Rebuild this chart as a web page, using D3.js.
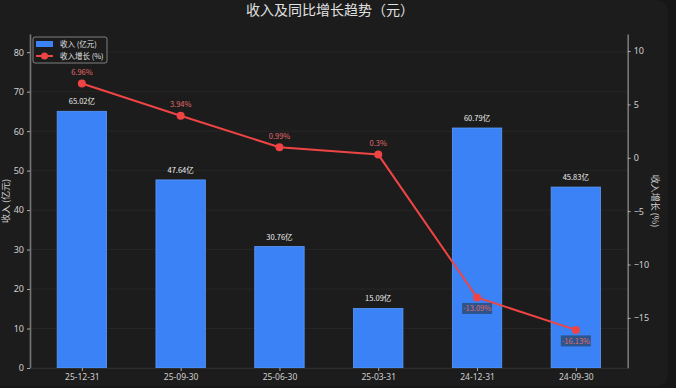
<!DOCTYPE html>
<html>
<head>
<meta charset="utf-8">
<script src="https://cdn.jsdelivr.net/npm/d3@7"></script>
<style>
  html, body { margin: 0; padding: 0; background: #161616; }
  svg { display: block; font-family: "Noto Sans CJK SC", "Noto Sans", sans-serif; }
</style>
</head>
<body>
<div id="chart"></div>
<script>
// data
var periods = ["25-12-31", "25-09-30", "25-06-30", "25-03-31", "24-12-31", "24-09-30"];
var revenue = [65.02, 47.64, 30.76, 15.09, 60.79, 45.83];
var growth = [6.96, 3.94, 0.99, 0.3, -13.09, -16.13];
var leftTicks = [0, 10, 20, 30, 40, 50, 60, 70, 80];
var rightTicks = [-15, -10, -5, 0, 5, 10];

var W = 676, H = 388;
var margin = {top: 34, right: 48, bottom: 20, left: 30},
    width = 627.7 - margin.left,
    height = 368 - margin.top;

var svg = d3.select("#chart").append("svg")
    .attr("width", W)
    .attr("height", H);

// card background
svg.append("rect")
    .attr("x", -20).attr("y", 0)
    .attr("width", 688).attr("height", 386)
    .attr("rx", 12)
    .attr("fill", "#1c1c1c");

svg.append("text")
    .attr("x", 330).attr("y", 15)
    .attr("text-anchor", "middle")
    .attr("fill", "#e0e0e0")
    .style("font-size", "14px")
    .text("收入及同比增长趋势（元）");

var g = svg.append("g")
    .attr("transform", "translate(" + margin.left + "," + margin.top + ")");

// scales
var x = d3.scaleLinear().domain([-0.525, 5.525]).range([0, width]);
var y = d3.scaleLinear().domain([0, 84.6]).range([height, 0]);
var y2 = d3.scaleLinear().domain([-19.7, 11.6]).range([height, 0]);
var barW = x(0.5) - x(0);

// grid
g.selectAll(".grid").data(leftTicks).enter().append("line")
    .attr("x1", 0).attr("x2", width)
    .attr("y1", function(d) { return y(d); })
    .attr("y2", function(d) { return y(d); })
    .attr("stroke", "#2a2a2a")
    .attr("stroke-width", 0.8);

// bars
g.selectAll(".bar").data(revenue).enter().append("rect")
    .attr("x", function(d, i) { return x(i) - barW / 2; })
    .attr("y", function(d) { return y(d); })
    .attr("width", barW)
    .attr("height", function(d) { return height - y(d); })
    .attr("fill", "#3b82f6")
    .attr("stroke", "#5b9af8")
    .attr("stroke-width", 0.8);

g.selectAll(".barlab").data(revenue).enter().append("text")
    .attr("x", function(d, i) { return x(i); })
    .attr("y", function(d) { return y(d) - 7; })
    .attr("text-anchor", "middle")
    .attr("fill", "#eeeeee")
    .style("font-size", "7.5px")
    .text(function(d) { return d + "亿"; });

// growth line
var line = d3.line()
    .x(function(d, i) { return x(i); })
    .y(function(d) { return y2(d); });

g.append("path")
    .datum(growth)
    .attr("d", line)
    .attr("fill", "none")
    .attr("stroke", "#ef4444")
    .attr("stroke-width", 2);

g.selectAll(".pt").data(growth).enter().append("circle")
    .attr("cx", function(d, i) { return x(i); })
    .attr("cy", function(d) { return y2(d); })
    .attr("r", 4)
    .attr("fill", "#ef4444");

var glab = g.selectAll(".glab").data(growth).enter().append("g")
    .attr("transform", function(d, i) {
      return "translate(" + x(i) + "," + (d < 0 ? y2(d) + 11 : y2(d) - 11) + ")";
    });
glab.filter(function(d) { return d < 0; }).append("rect")
    .attr("x", -15).attr("y", -5.5)
    .attr("width", 30).attr("height", 11)
    .attr("fill", "#2c4f80")
    .attr("opacity", 0.9);
glab.append("text")
    .attr("text-anchor", "middle")
    .attr("dy", "0.35em")
    .attr("fill", "#e06a6a")
    .style("font-size", "7.5px")
    .text(function(d) { return d + "%"; });

// axes
function styleAxis(sel) {
  sel.select(".domain").attr("stroke", "#777").attr("stroke-width", 1.6);
  sel.selectAll(".tick line").attr("stroke", "#aaa");
  sel.selectAll(".tick text").attr("fill", "#d0d0d0").style("font-size", "9px")
      .style("font-family", "'Noto Sans', sans-serif");
}

g.append("g")
    .call(d3.axisLeft(y).tickValues(leftTicks).tickSize(3).tickPadding(3).tickSizeOuter(0))
    .call(styleAxis);

g.append("g")
    .attr("transform", "translate(" + width + ",0)")
    .call(d3.axisRight(y2).tickValues(rightTicks).tickSize(3).tickPadding(3).tickSizeOuter(0))
    .call(styleAxis);

var xa = g.append("g")
    .attr("transform", "translate(0," + height + ")")
    .call(d3.axisBottom(x).tickValues(d3.range(periods.length))
      .tickFormat(function(i) { return periods[i]; })
      .tickSize(3).tickPadding(3).tickSizeOuter(0))
    .call(styleAxis);
xa.select(".domain").attr("stroke", "#2e2e2e").attr("stroke-width", 1);
xa.selectAll(".tick text").style("font-size", "8.5px");

// axis titles
svg.append("text")
    .attr("transform", "translate(9," + (margin.top + height / 2) + ") rotate(-90)")
    .attr("text-anchor", "middle")
    .attr("fill", "#d0d0d0")
    .style("font-size", "9px")
    .text("收入 (亿元)");

svg.append("text")
    .attr("transform", "translate(652," + (margin.top + height / 2) + ") rotate(90)")
    .attr("text-anchor", "middle")
    .attr("fill", "#d0d0d0")
    .style("font-size", "9px")
    .text("收入增长 (%)");

// legend
var lg = svg.append("g").attr("transform", "translate(33,37)");
lg.append("rect")
    .attr("width", 74).attr("height", 26)
    .attr("rx", 2)
    .attr("fill", "#1c1c1c")
    .attr("stroke", "#999")
    .attr("stroke-width", 0.8);
lg.append("rect")
    .attr("x", 3).attr("y", 4).attr("width", 17).attr("height", 6)
    .attr("fill", "#3b82f6");
lg.append("line")
    .attr("x1", 3).attr("x2", 20).attr("y1", 19).attr("y2", 19)
    .attr("stroke", "#ef4444").attr("stroke-width", 2);
lg.append("circle")
    .attr("cx", 11.5).attr("cy", 19).attr("r", 3.5)
    .attr("fill", "#ef4444");
lg.append("text").attr("x", 27).attr("y", 10)
    .attr("fill", "#e0e0e0").style("font-size", "7.5px").text("收入 (亿元)");
lg.append("text").attr("x", 27).attr("y", 22)
    .attr("fill", "#e0e0e0").style("font-size", "7.5px").text("收入增长 (%)");
</script>
</body>
</html>
